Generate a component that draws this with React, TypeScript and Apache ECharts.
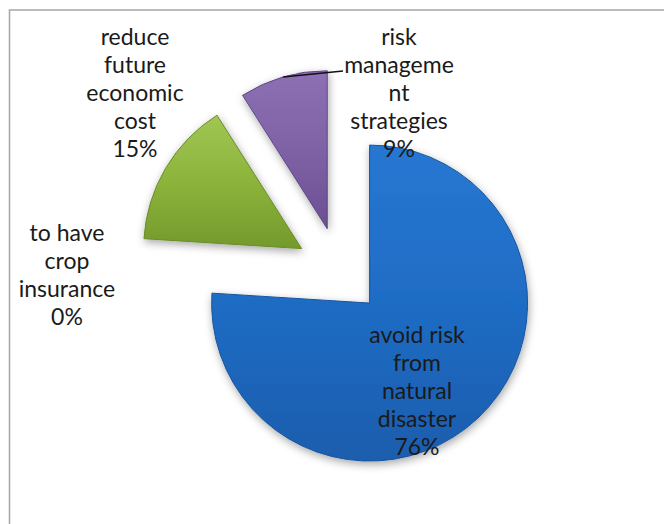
import React, { useEffect, useRef } from "react";
import * as echarts from "echarts";

const categories = [
  "avoid risk\nfrom\nnatural\ndisaster",
  "to have\ncrop\ninsurance",
  "reduce\nfuture\neconomic\ncost",
  "risk\nmanageme\nnt\nstrategies",
];
const values = [76, 0, 15, 9];
const percentLabels = ["76%", "0%", "15%", "9%"];

const sliceColors = [
  ["#2777d2", "#1f6cc4", "#1a5dae"],
  ["#c0504d", "#c0504d", "#c0504d"],
  ["#a0c653", "#8cb43b", "#74992c"],
  ["#8d70b4", "#7f62a6", "#6a4e92"],
];
const borderColors = ["#17559f", "#9c3a38", "#6a8c2a", "#5f4787"];

const labelCenters: number[][] = [
  [417, 390],
  [67, 274],
  [135, 92],
  [399, 92],
];

const CENTER = [339.5, 271];
const RADIUS = 158;
const OFFSET = 44;

export default function App() {
  const ref = useRef<HTMLDivElement>(null);
  useEffect(() => {
    if (!ref.current) return;
    const chart = echarts.init(ref.current, null, { renderer: "svg" });
    const data = categories.map((name, i) => {
      const empty = values[i] === 0;
      return {
        name,
        value: values[i],
        selected: true,
        itemStyle: {
          color: new echarts.graphic.LinearGradient(0, 0, 0, 1, [
            { offset: 0, color: sliceColors[i][0] },
            { offset: 0.5, color: sliceColors[i][1] },
            { offset: 1, color: sliceColors[i][2] },
          ]),
          borderColor: borderColors[i],
          borderWidth: empty ? 0 : 1,
          shadowBlur: empty ? 0 : 8,
          shadowColor: "rgba(0,0,0,0.35)",
          shadowOffsetX: empty ? 0 : 1,
          shadowOffsetY: empty ? 0 : 3,
        },
      };
    });

    const total = values.reduce((a, b) => a + b, 0);
    const labelTexts = categories.map((name, i) => ({
      type: "text",
      z: 100,
      silent: true,
      style: {
        text: name + "\n" + percentLabels[i],
        x: labelCenters[i][0],
        y: labelCenters[i][1],
        align: "center",
        verticalAlign: "middle",
        fontFamily: "Lato",
        fontSize: 23,
        lineHeight: 28,
        fill: "#1a1a1a",
      },
    }));

    // leader line for the "risk management" slice, from the middle of its arc
    let acc = 0;
    for (let i = 0; i < 3; i++) acc += values[i];
    const midFrac = (acc + values[3] / 2) / total;
    const ang = midFrac * Math.PI * 2;
    const dx = Math.sin(ang);
    const dy = -Math.cos(ang);
    const startPt = [CENTER[0] + dx * (RADIUS + OFFSET), CENTER[1] + dy * (RADIUS + OFFSET)];
    const lc = labelCenters[3];
    const leader = {
      type: "polyline",
      z: 99,
      silent: true,
      shape: { points: [startPt, [lc[0] - 56, lc[1] - 21]] },
      style: { stroke: "#111111", lineWidth: 1.5, fill: "none" },
    };

    chart.setOption({
      animation: false,
      backgroundColor: "#ffffff",
      graphic: [
        {
          type: "rect",
          z: -1,
          silent: true,
          shape: { x: 9.5, y: 10, width: 700, height: 600 },
          style: { fill: "none", stroke: "#a6a6a6", lineWidth: 1.5 },
        },
        leader,
        ...labelTexts,
      ],
      series: [
        {
          type: "pie",
          center: CENTER,
          radius: RADIUS,
          startAngle: 90,
          clockwise: true,
          selectedMode: "multiple",
          selectedOffset: OFFSET,
          data,
          label: { show: false },
          labelLine: { show: false },
          emphasis: { disabled: true },
        },
      ],
    });
    return () => chart.dispose();
  }, []);
  return (
    <div
      ref={ref}
      style={{ position: "fixed", left: 0, top: 0, width: 664, height: 524, background: "#fff" }}
    />
  );
}
